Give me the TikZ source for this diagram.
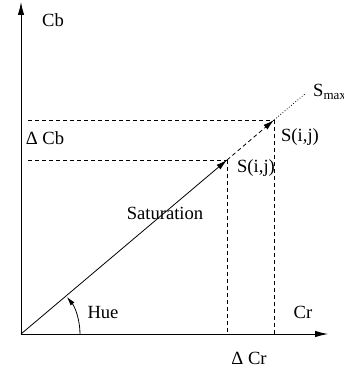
\documentclass[tikz,border=0pt]{standalone}
\usepackage{fontspec}
\setmainfont{Liberation Serif}
\usetikzlibrary{arrows.meta}
\begin{document}
\begin{tikzpicture}[x=1pt,y=1pt,
  lbl/.style={inner sep=0pt,anchor=base,font=\fontsize{18.6}{20}\selectfont},
  axis/.style={line width=0.9pt,-{Latex[length=13pt,width=6.5pt]}},
  vec/.style={line width=0.8pt,-{Latex[length=11pt,width=6pt]}},
  guide/.style={line width=0.8pt,dash pattern=on 4pt off 3pt}]
\useasboundingbox (0,0) rectangle (344,372);
\coordinate (O) at (21,38);
\coordinate (Ytip) at (21,370);
\coordinate (Xtip) at (328,38);
\coordinate (P1) at (227,212);
\coordinate (P2) at (274,252);
\coordinate (Pm) at (306,279);
\coordinate (H1) at (28,212);
\coordinate (H2) at (28,252);
\coordinate (V1) at (227,38);
\coordinate (V2) at (274,38);
% guides
\draw[guide] (H2) -- (P2);
\draw[guide] (H1) -- (P1);
\draw[guide] (P1) -- (V1);
\draw[guide] (P2) -- (V2);
% axes
\draw[axis] (O) -- (Ytip);
\draw[axis] (O) -- (Xtip);
% vectors
\draw[vec] (O) -- (P1);
\draw[vec,dash pattern=on 4pt off 3pt] (P1) -- (P2);
\draw[line width=0.8pt,dotted] (P2) -- (Pm);
% hue arc
\draw[line width=0.8pt,-{Latex[length=9pt,width=5pt]}] (80,38) arc[start angle=0,end angle=39,radius=59];
% labels
\node[lbl] (cb) at (53,345) {Cb};
\node[lbl] (dcb) at (45,227) {Δ Cb};
\node[lbl] (sat) at (165,152) {Saturation};
\node[lbl] (hue) at (103,53) {Hue};
\node[lbl] (cr) at (303,53) {Cr};
\node[lbl] (dcr) at (249,7) {Δ Cr};
\node[lbl] (s2) at (300,230) {S(i,j)};
\node[lbl] (s1) at (256,199) {S(i,j)};
\node[lbl,anchor=base west] (smax) at (313,275) {S\textsubscript{max}};
\end{tikzpicture}
\end{document}
